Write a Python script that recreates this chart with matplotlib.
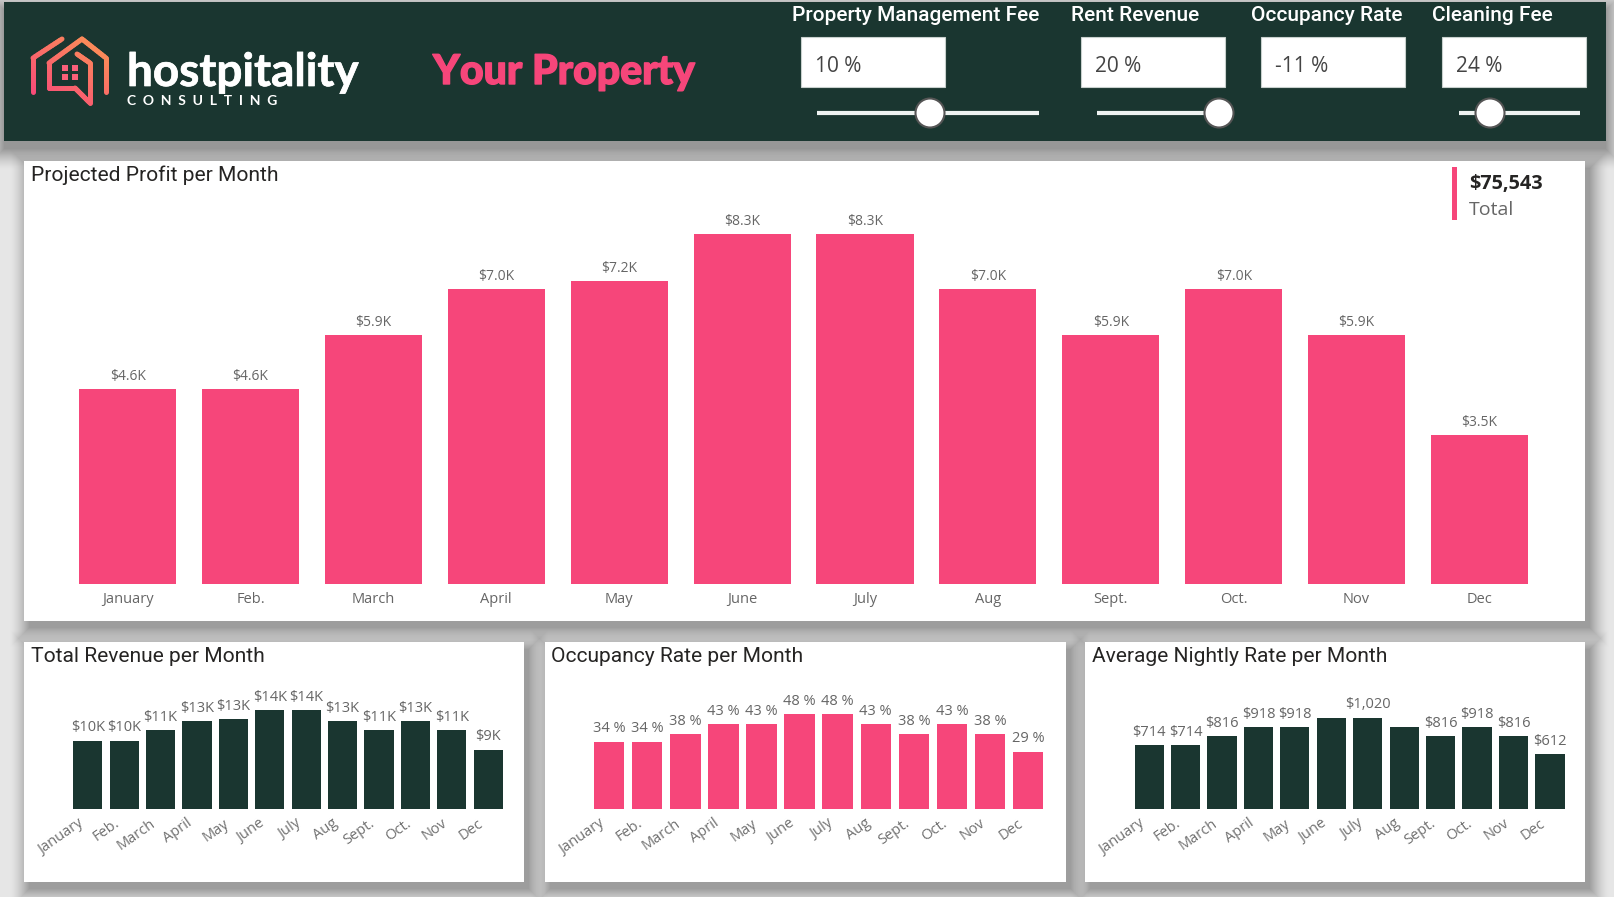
import numpy as np
import matplotlib
matplotlib.use('Agg')
import matplotlib.pyplot as plt
import matplotlib.patheffects as pe
from matplotlib.collections import LineCollection
from matplotlib.colors import to_rgb
from matplotlib.patches import Circle, Rectangle

W, H = 1615, 897
PINK = '#f6467a'
GREEN = '#1a3630'

months = ['January', 'Feb.', 'March', 'April', 'May', 'June', 'July', 'Aug', 'Sept.', 'Oct.', 'Nov', 'Dec']

# valores
profit = [4.63, 4.63, 5.91, 7.01, 7.2, 8.31, 8.31, 7.01, 5.91, 7.01, 5.91, 3.53]
profit_labels = ['$4.6K', '$4.6K', '$5.9K', '$7.0K', '$7.2K', '$8.3K', '$8.3K', '$7.0K', '$5.9K', '$7.0K', '$5.9K', '$3.5K']

revenue = [9.8, 9.8, 11.3, 12.6, 12.9, 14.2, 14.2, 12.6, 11.3, 12.6, 11.3, 8.5]
revenue_labels = ['$10K', '$10K', '$11K', '$13K', '$13K', '$14K', '$14K', '$13K', '$11K', '$13K', '$11K', '$9K']

occupancy = [34, 34, 38, 43, 43, 48, 48, 43, 38, 43, 38, 29]
occupancy_labels = ['34 %', '34 %', '38 %', '43 %', '43 %', '48 %', '48 %', '43 %', '38 %', '43 %', '38 %', '29 %']

nightly = [714, 714, 816, 918, 918, 1020, 1020, 918, 816, 918, 816, 612]
nightly_labels = ['$714', '$714', '$816', '$918', '$918', '', '$1,020', '', '$816', '$918', '$816', '$612']

slider_names = ['Property Management Fee', 'Rent Revenue', 'Occupancy Rate', 'Cleaning Fee']
slider_values = ['10 %', '20 %', '-11 %', '24 %']

plt.rcParams['font.family'] = ['Open Sans', 'DejaVu Sans']

fig = plt.figure(figsize=(W / 100, H / 100), dpi=100, facecolor='#e6e6e6')

# capa de fondo en pixeles
bg = fig.add_axes([0, 0, 1, 1])
bg.set_xlim(0, W)
bg.set_ylim(H, 0)
bg.axis('off')


def card(x0, y0, x1, y1, color='white', dx=5, dy=7, reach=20):
    # sombra hecha con rectangulos apilados, mas suave hacia afuera
    for d in range(reach, -1, -1):
        alpha = 0.04 * (1 - d / (reach + 1))
        bg.add_patch(Rectangle((x0 + dx - d, y0 + dy - d), x1 - x0 + 2 * d, y1 - y0 + 2 * d,
                               fc='#303030', ec='none', alpha=alpha))
    bg.add_patch(Rectangle((x0, y0), x1 - x0, y1 - y0, fc=color, ec='none'))


card(4, 2, 1606, 141, color=GREEN, dx=0, dy=8, reach=22)
card(24, 161, 1585, 621)
card(24, 642, 524, 882)
card(545, 642, 1066, 882)
card(1085, 642, 1585, 882)

# logo
logo_paths = [
    [(33, 92), (33, 58), (62, 39)],
    [(106, 92), (106, 58), (82, 39), (49, 63), (49, 88), (75, 88), (90, 103), (90, 63), (77, 54)],
]
c_pink = np.array(to_rgb('#f8487a'))
c_orange = np.array(to_rgb('#fb8f57'))
for path in logo_paths:
    pts = []
    for (xa, ya), (xb, yb) in zip(path[:-1], path[1:]):
        for t in np.linspace(0, 1, 12, endpoint=False):
            pts.append((xa + (xb - xa) * t, ya + (yb - ya) * t))
    pts.append(path[-1])
    pts = np.array(pts)
    segs = np.stack([pts[:-1], pts[1:]], axis=1)
    t = np.clip((segs[:, 0, 0] - 30) / 85 * 0.6 + (95 - segs[:, 0, 1]) / 60 * 0.6, 0, 1)
    cols = [c_pink + (c_orange - c_pink) * v for v in t]
    bg.add_collection(LineCollection(segs, colors=cols, linewidths=3.6, capstyle='round'))
for wx in (62, 72):
    for wy in (65, 74.5):
        bg.add_patch(Rectangle((wx, wy), 6, 6, fc='#f8607a', ec='none'))

thick = [pe.withStroke(linewidth=0.5, foreground='white')]
bg.text(127, 73, 'hostpitality', color='white', fontsize=33, fontweight='bold', family='Lato', va='center',
        path_effects=thick)
bg.text(127, 101, 'C  O  N  S  U  L  T  I  N  G', color='white', fontsize=10, fontweight='bold', family='Lato',
        va='center')
bg.text(433, 72, 'Your Property', color=PINK, fontsize=29.5, fontweight='black', family='Lato', va='center',
        path_effects=[pe.withStroke(linewidth=1, foreground=PINK)])

# slicers
label_x = [792, 1071, 1251, 1432]
box_x = [801, 1081, 1261, 1442]
for name, value, lx, bx in zip(slider_names, slider_values, label_x, box_x):
    bg.text(lx, 15.5, name, color='white', fontsize=15, family='Roboto', fontweight='medium', va='center')
    bg.add_patch(Rectangle((bx, 37), 144, 50, fc='white', ec='#c8d0cd', lw=0.8))
    bg.text(bx + 14, 66, value, color='#444444', fontsize=15, family='Open Sans', va='center')

for x0, x1, thumb in [(817, 1039, 930), (1097, 1219, 1219), (1459, 1580, 1490)]:
    bg.plot([x0, x1], [113, 113], color='#eef3f1', lw=3, solid_capstyle='butt')
    bg.add_patch(Circle((thumb, 113), 14.5, fc='white', ec='#555555', lw=1.5, zorder=3))

# total
bg.add_patch(Rectangle((1452.5, 167), 4.5, 53, fc=PINK, ec='none'))
bg.text(1469, 184, '$75,543', color='#252423', fontsize=14.3, fontweight='bold', va='center')
bg.text(1469, 210, 'Total', color='#666666', fontsize=14, va='center')

# titulos
bg.text(31, 175, 'Projected Profit per Month', color='#252423', fontsize=15.1, family='Roboto', va='center')
bg.text(31, 656, 'Total Revenue per Month', color='#252423', fontsize=15.1, family='Roboto', va='center')
bg.text(551, 656, 'Occupancy Rate per Month', color='#252423', fontsize=15.1, family='Roboto', va='center')
bg.text(1092, 656, 'Average Nightly Rate per Month', color='#252423', fontsize=15.1, family='Roboto', va='center')


def bar_chart(first, slot, base, top, scale, values, labels, color, width=0.8, lab_size=10, rotate=False):
    left = first - slot / 2
    ax = fig.add_axes([left / W, 1 - base / H, slot * 12 / W, (base - top) / H])
    ax.patch.set_alpha(0)
    x = np.arange(len(values))
    bars = ax.bar(x, values, width=width, color=color)
    ax.bar_label(bars, labels=labels, padding=4, fontsize=lab_size, color='#666666')
    ax.set_xlim(-0.5, 11.5)
    ax.set_ylim(0, (base - top) / scale)
    ax.set_yticks([])
    ax.set_xticks(x)
    if rotate:
        # las etiquetas giradas van un poco a la izquierda de cada barra
        ax.set_xticklabels([])
        for i, name in enumerate(months):
            ax.annotate(name, xy=(i, 0), xycoords=('data', 'axes fraction'), xytext=(-7.5, -5),
                        textcoords='offset points', rotation=35, ha='right', va='top',
                        rotation_mode='anchor', fontsize=10.5, color='#707070', annotation_clip=False)
    else:
        ax.set_xticklabels(months, fontsize=10.5, color='#666666')
    ax.tick_params(axis='x', length=0, pad=5.5)
    for side in ax.spines.values():
        side.set_visible(False)
    return ax


bar_chart(127.6, 122.9, 584, 190, 42.07, profit, profit_labels, PINK, width=0.79)
bar_chart(87.8, 36.4, 809, 680, 6.95, revenue, revenue_labels, GREEN, lab_size=10.5, rotate=True)
bar_chart(609.1, 38.1, 809, 680, 1.972, occupancy, occupancy_labels, PINK, lab_size=10.5, rotate=True)
bar_chart(1149.2, 36.43, 809, 680, 0.0892, nightly, nightly_labels, GREEN, lab_size=10.5, rotate=True)

fig.savefig('out.png', dpi=100, facecolor=fig.get_facecolor())
